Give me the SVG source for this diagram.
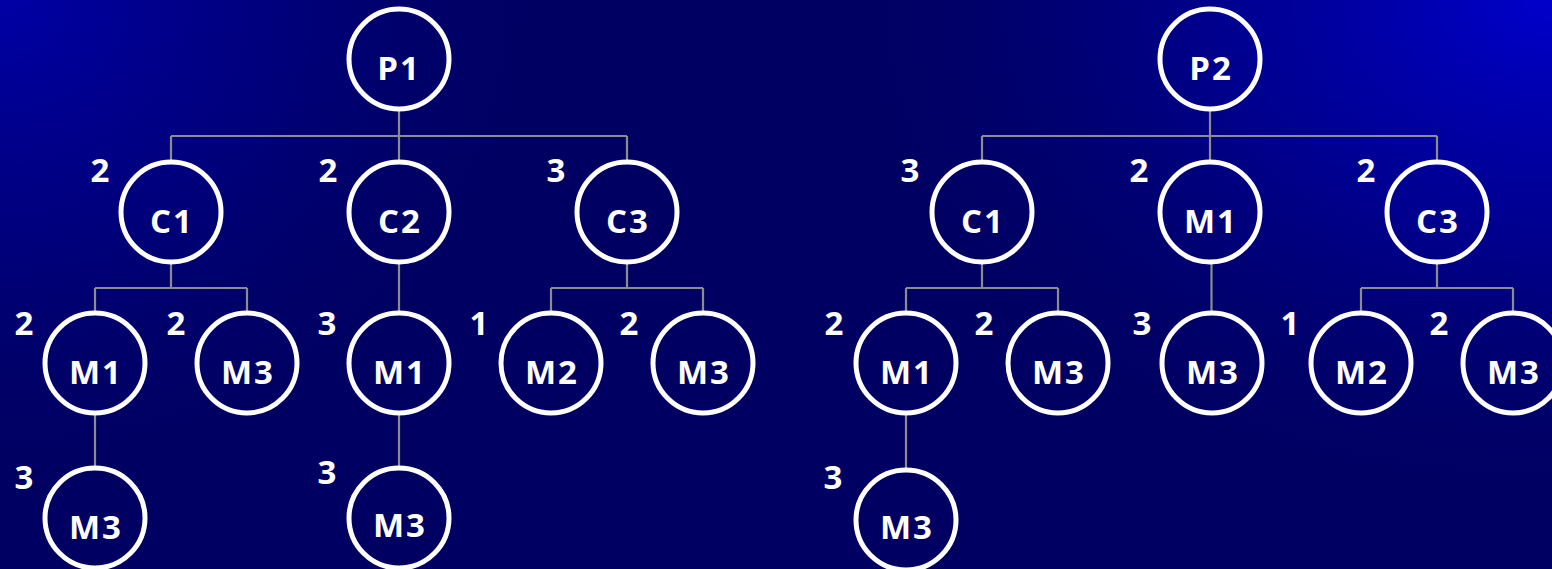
<svg xmlns="http://www.w3.org/2000/svg" width="1552" height="569" viewBox="0 0 1552 569">
  <defs>
    <radialGradient id="glowLeft" cx="0" cy="0" r="1" gradientUnits="userSpaceOnUse" gradientTransform="translate(0 0) scale(600 520)">
      <stop offset="0" stop-color="#0000a6"/>
      <stop offset="0.45" stop-color="#00008c" stop-opacity="0.65"/>
      <stop offset="1" stop-color="#000062" stop-opacity="0"/>
    </radialGradient>
    <radialGradient id="glowRight" cx="0" cy="0" r="1" gradientUnits="userSpaceOnUse" gradientTransform="translate(1552 0) scale(760 540)">
      <stop offset="0" stop-color="#0000cc"/>
      <stop offset="0.45" stop-color="#0000a4" stop-opacity="0.65"/>
      <stop offset="1" stop-color="#000062" stop-opacity="0"/>
    </radialGradient>
    <style>
      .node circle { fill: none; stroke: #ffffff; stroke-width: 5; }
      .node text { fill: #ffffff; font-family: "Open Sans", "DejaVu Sans", sans-serif; font-weight: bold; font-size: 33px; text-anchor: middle; letter-spacing: 2px; }
      .qty { fill: #ffffff; font-family: "Open Sans", "DejaVu Sans", sans-serif; font-weight: bold; font-size: 33px; text-anchor: middle; }
      #connectors path { fill: none; stroke: #8c8c8c; stroke-width: 2.2; }
    </style>
  </defs>

  <!-- background -->
  <rect width="1552" height="569" fill="#000062"/>
  <rect width="1552" height="569" fill="url(#glowLeft)"/>
  <rect width="1552" height="569" fill="url(#glowRight)"/>

  <!-- tree links -->
  <g id="connectors">
    <!-- left tree -->
    <path d="M399 111 V136 M171 136 H627 M171 136 V160 M399 136 V160 M627 136 V160"/>
    <path d="M171 264 V288 M95 288 H247 M95 288 V311 M247 288 V311"/>
    <path d="M399 264 V311"/>
    <path d="M627 264 V288 M551 288 H703 M551 288 V311 M703 288 V311"/>
    <path d="M95 415 V466"/>
    <path d="M399 415 V466"/>
    <!-- right tree -->
    <path d="M1210 111 V160 M982 136 H1437 M982 136 V160 M1437 136 V160"/>
    <path d="M982 264 V288 M906 288 H1058 M906 288 V311 M1058 288 V311"/>
    <path d="M1211.5 264 V311"/>
    <path d="M1437 264 V288 M1361 288 H1513 M1361 288 V311 M1513 288 V311"/>
    <path d="M906 415 V468"/>
  </g>

  <!-- left tree nodes -->
  <g id="p1" class="node"><circle cx="399" cy="59" r="50"/><text x="399" y="80">P1</text></g>
  <g id="p1-c1" class="node"><circle cx="171" cy="212" r="50"/><text x="172" y="233">C1</text></g>
  <g id="p1-c2" class="node"><circle cx="399" cy="212" r="50"/><text x="400" y="233">C2</text></g>
  <g id="p1-c3" class="node"><circle cx="627" cy="212" r="50"/><text x="628" y="233">C3</text></g>
  <g id="p1-c1-m1" class="node"><circle cx="95" cy="363" r="50"/><text x="96" y="384">M1</text></g>
  <g id="p1-c1-m3" class="node"><circle cx="247" cy="363" r="50"/><text x="248" y="384">M3</text></g>
  <g id="p1-c2-m1" class="node"><circle cx="399" cy="363" r="50"/><text x="400" y="384">M1</text></g>
  <g id="p1-c3-m2" class="node"><circle cx="551" cy="363" r="50"/><text x="552" y="384">M2</text></g>
  <g id="p1-c3-m3" class="node"><circle cx="703" cy="363" r="50"/><text x="704" y="384">M3</text></g>
  <g id="p1-c1-m1-m3" class="node"><circle cx="95" cy="518" r="50"/><text x="96" y="539">M3</text></g>
  <g id="p1-c2-m1-m3" class="node"><circle cx="399" cy="518" r="50"/><text x="400" y="537">M3</text></g>

  <!-- right tree nodes -->
  <g id="p2" class="node"><circle cx="1210" cy="59" r="50"/><text x="1211" y="80">P2</text></g>
  <g id="p2-c1" class="node"><circle cx="982" cy="212" r="50"/><text x="983" y="233">C1</text></g>
  <g id="p2-m1" class="node"><circle cx="1210" cy="212" r="50"/><text x="1211" y="233">M1</text></g>
  <g id="p2-c3" class="node"><circle cx="1437" cy="212" r="50"/><text x="1438" y="233">C3</text></g>
  <g id="p2-c1-m1" class="node"><circle cx="906" cy="363" r="50"/><text x="907" y="384">M1</text></g>
  <g id="p2-c1-m3" class="node"><circle cx="1058" cy="363" r="50"/><text x="1059" y="384">M3</text></g>
  <g id="p2-m1-m3" class="node"><circle cx="1212" cy="363" r="50"/><text x="1213" y="384">M3</text></g>
  <g id="p2-c3-m2" class="node"><circle cx="1361" cy="363" r="50"/><text x="1362" y="384">M2</text></g>
  <g id="p2-c3-m3" class="node"><circle cx="1513" cy="363" r="50"/><text x="1514" y="384">M3</text></g>
  <g id="p2-c1-m1-m3" class="node"><circle cx="906" cy="520" r="50"/><text x="907" y="539">M3</text></g>

  <!-- quantities -->
  <g id="quantities">
    <text class="qty" x="100" y="182">2</text>
    <text class="qty" x="328" y="182">2</text>
    <text class="qty" x="556" y="182">3</text>
    <text class="qty" x="24" y="335">2</text>
    <text class="qty" x="176" y="335">2</text>
    <text class="qty" x="327" y="335">3</text>
    <text class="qty" x="479" y="335">1</text>
    <text class="qty" x="629" y="335">2</text>
    <text class="qty" x="24" y="489">3</text>
    <text class="qty" x="327" y="484">3</text>
    <text class="qty" x="910" y="182">3</text>
    <text class="qty" x="1139" y="182">2</text>
    <text class="qty" x="1366" y="182">2</text>
    <text class="qty" x="834" y="335">2</text>
    <text class="qty" x="984" y="335">2</text>
    <text class="qty" x="1142" y="335">3</text>
    <text class="qty" x="1290" y="335">1</text>
    <text class="qty" x="1439" y="335">2</text>
    <text class="qty" x="833" y="489">3</text>
  </g>
</svg>
